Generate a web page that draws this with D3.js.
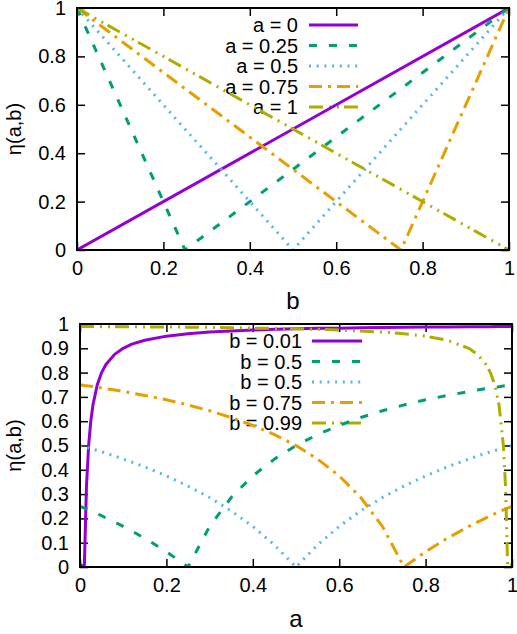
<!DOCTYPE html>
<html>
<head>
<meta charset="utf-8">
<script src="https://cdn.jsdelivr.net/npm/d3@7"></script>
<style>
  body { margin: 0; background: #fff; }
  svg { display: block; font-family: "Liberation Sans", Arial, sans-serif; }
</style>
</head>
<body>
<div id="chart"></div>
<script>
// ---- data ----
// top panel: eta vs b, one series per a
const topLabels = ["a = 0", "a = 0.25", "a = 0.5", "a = 0.75", "a = 1"]
const topB = [[0, 1], [0, 0.25, 1], [0, 0.5, 1], [0, 0.75, 1], [0, 1]]
const topEta = [[0, 1], [1, 0, 1], [1, 0, 1], [1, 0, 1], [1, 0]]

// bottom panel: eta vs a, one series per b
const botLabels = ["b = 0.01", "b = 0.5", "b = 0.5", "b = 0.75", "b = 0.99"]
const botA = [0, 0.01, 0.015, 0.02, 0.025, 0.03, 0.04, 0.05, 0.06, 0.08, 0.1, 0.12, 0.15, 0.2, 0.25, 0.3, 0.35,
    0.4, 0.45, 0.5, 0.55, 0.6, 0.65, 0.7, 0.75, 0.8, 0.85, 0.9, 0.92, 0.94, 0.95, 0.96, 0.97, 0.98, 0.985, 0.99, 1]
const eta_b001 = [0.01, 0, 0.333, 0.5, 0.6, 0.667, 0.75, 0.8, 0.833, 0.875, 0.9, 0.917, 0.933, 0.95, 0.96, 0.967, 0.971,
    0.975, 0.978, 0.98, 0.982, 0.983, 0.985, 0.986, 0.987, 0.988, 0.988, 0.989, 0.989, 0.989, 0.989, 0.99, 0.99, 0.99, 0.99, 0.99, 0.99]
const eta_b025 = [0.25, 0.242, 0.239, 0.235, 0.231, 0.227, 0.219, 0.211, 0.202, 0.185, 0.167, 0.148, 0.118, 0.063, 0, 0.167, 0.286,
    0.375, 0.444, 0.5, 0.545, 0.583, 0.615, 0.643, 0.667, 0.688, 0.706, 0.722, 0.728, 0.734, 0.737, 0.74, 0.742, 0.745, 0.746, 0.747, 0.75]
const eta_b05 = [0.5, 0.495, 0.492, 0.49, 0.487, 0.485, 0.479, 0.474, 0.468, 0.457, 0.444, 0.432, 0.412, 0.375, 0.333, 0.286, 0.231,
    0.167, 0.091, 0, 0.091, 0.167, 0.231, 0.286, 0.333, 0.375, 0.412, 0.444, 0.457, 0.468, 0.474, 0.479, 0.485, 0.49, 0.492, 0.495, 0.5]
const eta_b075 = [0.75, 0.747, 0.746, 0.745, 0.744, 0.742, 0.74, 0.737, 0.734, 0.728, 0.722, 0.716, 0.706, 0.688, 0.667, 0.643, 0.615,
    0.583, 0.545, 0.5, 0.444, 0.375, 0.286, 0.167, 0, 0.063, 0.118, 0.167, 0.185, 0.202, 0.211, 0.219, 0.227, 0.235, 0.239, 0.242, 0.25]
const eta_b099 = [0.99, 0.99, 0.99, 0.99, 0.99, 0.99, 0.99, 0.989, 0.989, 0.989, 0.989, 0.989, 0.988, 0.988, 0.987, 0.986, 0.985,
    0.983, 0.982, 0.98, 0.978, 0.975, 0.971, 0.967, 0.96, 0.95, 0.933, 0.9, 0.875, 0.833, 0.8, 0.75, 0.667, 0.5, 0.333, 0, 0.01]

const topTicksY = [0, 0.2, 0.4, 0.6, 0.8, 1]
const botTicksY = [0, 0.1, 0.2, 0.3, 0.4, 0.5, 0.6, 0.7, 0.8, 0.9, 1]
const ticksX = [0, 0.2, 0.4, 0.6, 0.8, 1]

// gnuplot-ish line styles
const colors = ["#9400d3", "#009e73", "#56b4e9", "#e69f00", "#adad00"]
const dashes = [null, "8,12", "2,5.7", "13,6,3,6", "14,6,2,6,2,5"]

const W = 517, H = 634

const svg = d3.select("#chart").append("svg")
    .attr("width", W)
    .attr("height", H)

function panel(id, box, yTicks, xLabel, series, labels, legend) {
    const x = d3.scaleLinear().domain([0, 1]).range([box.left, box.right])
    const y = d3.scaleLinear().domain([0, 1]).range([box.bottom, box.top])

    const g = svg.append("g").attr("class", id)

    g.append("clipPath").attr("id", "clip-" + id)
        .append("rect")
        .attr("x", box.left).attr("y", box.top)
        .attr("width", box.right - box.left).attr("height", box.bottom - box.top)

    // axes: inward ticks, mirrored on top / right
    const fmt = d3.format("~g")
    g.append("g").attr("transform", `translate(0,${box.bottom})`)
        .call(d3.axisBottom(x).tickValues(ticksX).tickSize(-8).tickPadding(11).tickFormat(fmt))
    g.append("g").attr("transform", `translate(0,${box.top})`)
        .call(d3.axisTop(x).tickValues(ticksX).tickSize(-8).tickFormat(""))
    g.append("g").attr("transform", `translate(${box.left},0)`)
        .call(d3.axisLeft(y).tickValues(yTicks).tickSize(-8).tickPadding(11).tickFormat(fmt))
    g.append("g").attr("transform", `translate(${box.right},0)`)
        .call(d3.axisRight(y).tickValues(yTicks).tickSize(-8).tickFormat(""))

    g.selectAll(".domain").remove()
    g.selectAll(".tick line").attr("stroke", "#000").attr("stroke-width", 1.5)
    g.selectAll(".tick text").attr("font-size", 20).attr("fill", "#000")
        .attr("font-family", "Liberation Sans, Arial, sans-serif")

    // legend
    labels.forEach(function (lab, i) {
        const ly = legend.y + i * legend.step
        g.append("text")
            .attr("x", legend.textX)
            .attr("y", ly + 7)
            .attr("text-anchor", "end")
            .attr("font-size", 20)
            .text(lab)
        g.append("line")
            .attr("x1", legend.x1).attr("x2", legend.x2)
            .attr("y1", ly).attr("y2", ly)
            .attr("stroke", colors[i])
            .attr("stroke-width", 3)
            .attr("stroke-dasharray", dashes[i])
    })

    // curves
    const line = d3.line()
        .x(function (d) { return x(d[0]) })
        .y(function (d) { return y(d[1]) })

    g.append("g").attr("clip-path", `url(#clip-${id})`)
        .selectAll("path")
        .data(series)
        .join("path")
        .attr("d", line)
        .attr("fill", "none")
        .attr("stroke", function (d, i) { return colors[i] })
        .attr("stroke-width", 3)
        .attr("stroke-linejoin", "round")
        .attr("stroke-dasharray", function (d, i) { return dashes[i] })

    // border
    g.append("rect")
        .attr("x", box.left).attr("y", box.top)
        .attr("width", box.right - box.left).attr("height", box.bottom - box.top)
        .attr("fill", "none")
        .attr("stroke", "#000")
        .attr("stroke-width", 2)

    // axis titles
    g.append("text")
        .attr("x", (box.left + box.right) / 2)
        .attr("y", box.bottom + box.xLabelDy)
        .attr("text-anchor", "middle")
        .attr("font-size", 24)
        .text(xLabel)

    g.append("text")
        .attr("transform", `translate(21,${(box.top + box.bottom) / 2}) rotate(-90)`)
        .attr("text-anchor", "middle")
        .attr("font-size", 20)
        .text("η(a,b)")
}

const topSeries = topB.map(function (bs, i) {
    return bs.map(function (b, j) { return [b, topEta[i][j]] })
})
const botSeries = [eta_b001, eta_b025, eta_b05, eta_b075, eta_b099].map(function (ys) {
    return botA.map(function (a, j) { return [a, ys[j]] })
})

panel("top", { left: 77, right: 509, top: 8, bottom: 250, xLabelDy: 59 }, topTicksY, "b",
    topSeries, topLabels, { textX: 298, x1: 309, x2: 358, y: 25, step: 20.5 })

panel("bot", { left: 80, right: 512, top: 324, bottom: 567, xLabelDy: 60 }, botTicksY, "a",
    botSeries, botLabels, { textX: 302, x1: 312, x2: 362, y: 341, step: 20.5 })
</script>
</body>
</html>
